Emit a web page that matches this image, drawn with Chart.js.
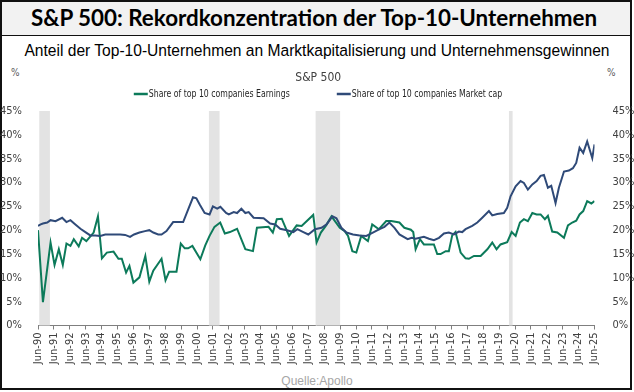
<!DOCTYPE html>
<html>
<head>
<meta charset="utf-8">
<script src="https://cdn.jsdelivr.net/npm/chart.js@4.4.0/dist/chart.umd.min.js"></script>
<style>
  body { margin: 0; background: #fff; }
  #frame { position: absolute; left: 0; top: 0; width: 632px; height: 390px; box-sizing: border-box;
           border: 2px solid #111; background: #fff; }
  #titlebar { position: absolute; left: 0; top: 0; width: 628px; height: 33px; background: #f2f2f2;
              border-bottom: 1.5px solid #111; }
  .txt { position: absolute; white-space: nowrap; }
  #title { left: 0; width: 628px; top: 0; height: 33px; line-height: 35px; text-align: center;
           font-family: Lato, 'Open Sans', sans-serif; font-weight: bold; color: #000; }
  #subtitle { left: 0; width: 634px; top: 40px; height: 22px; line-height: 22px; text-align: center;
              font-family: 'Liberation Sans', Arial, sans-serif; color: #000; }
  .pct { top: 67px; font: 10px 'Liberation Sans Narrow', 'DejaVu Sans Condensed', Roboto, sans-serif; color: #595959; }
  #source { left: 0; width: 634px; top: 374px; text-align: center; font: 12px 'Liberation Sans', Arial, sans-serif; color: #a6a6a6; }
  #chart { position: absolute; left: 0; top: 0; }
</style>
</head>
<body>
<div id="frame">
  <div id="titlebar"></div>
</div>
<div class="txt" id="title">S&amp;P 500: Rekordkonzentration der Top-10-Unternehmen</div>
<div class="txt" id="subtitle">Anteil der Top-10-Unternehmen an Marktkapitalisierung und Unternehmensgewinnen</div>
<div class="txt pct" style="left:11px">%</div>
<div class="txt pct" style="left:607px">%</div>
<div class="txt" id="source">Quelle:Apollo</div>
<canvas id="chart" width="634" height="392"></canvas>
<script>
// share of the S&P 500, in percent
var earnYears = [1990.50, 1990.81, 1991.29, 1991.54, 1991.81, 1992.06, 1992.29, 1992.54, 1992.75, 1993.06,
  1993.27, 1993.54, 1994.00, 1994.27, 1994.52, 1994.83, 1995.25, 1995.56, 1995.77, 1996.04,
  1996.25, 1996.50, 1996.88, 1997.25, 1997.50, 1997.75, 1998.27, 1998.52, 1998.75, 1999.21,
  1999.48, 1999.73, 1999.94, 2000.21, 2000.71, 2001.02, 2001.29, 2001.60, 2001.96, 2002.25,
  2002.57, 2003.02, 2003.54, 2004.02, 2004.27, 2005.00, 2005.27, 2005.52, 2005.83, 2006.29,
  2006.77, 2007.08, 2007.81, 2008.02, 2008.29, 2008.60, 2008.96, 2009.48, 2009.79, 2010.00,
  2010.27, 2010.52, 2010.83, 2011.25, 2011.52, 2011.94, 2012.40, 2012.71, 2013.23, 2013.54,
  2013.95, 2014.10, 2014.25, 2014.52, 2014.77, 2015.40, 2015.61, 2015.82, 2016.14, 2016.34,
  2016.55, 2016.76, 2017.08, 2017.39, 2017.60, 2017.92, 2018.34, 2018.76, 2019.07, 2019.34,
  2019.59, 2020.01, 2020.29, 2020.54, 2020.81, 2021.06, 2021.31, 2021.59, 2021.86, 2022.11,
  2022.38, 2022.57, 2022.84, 2023.16, 2023.58, 2023.83, 2024.10, 2024.35, 2024.56, 2024.79,
  2025.04, 2025.30, 2025.50];
var earnShare = [20.0, 4.9, 17.4, 12.7, 16.0, 12.7, 17.2, 16.7, 18.1, 16.6,
  18.4, 17.7, 19.5, 22.9, 14.1, 15.3, 15.5, 14.0, 14.0, 11.1,
  12.5, 9.0, 10.1, 14.6, 9.2, 11.5, 14.0, 9.5, 11.3, 11.3,
  17.2, 16.2, 16.2, 16.7, 13.9, 16.8, 18.8, 20.7, 21.6, 19.3,
  19.6, 20.3, 16.0, 15.6, 20.5, 20.7, 19.5, 22.3, 22.4, 18.8,
  21.0, 20.9, 23.2, 17.4, 19.5, 20.9, 22.9, 20.5, 19.8, 18.8,
  15.6, 15.3, 18.8, 17.7, 21.2, 20.2, 21.9, 21.9, 21.6, 20.5,
  20.1, 19.6, 16.0, 18.1, 17.0, 17.0, 15.0, 15.0, 15.6, 15.6,
  18.9, 19.6, 15.3, 14.1, 14.0, 14.6, 14.6, 16.0, 17.4, 16.0,
  17.0, 17.5, 19.6, 18.8, 21.6, 22.3, 21.9, 23.6, 23.3, 23.3,
  22.3, 23.0, 19.7, 19.5, 18.4, 21.0, 21.6, 22.0, 23.3, 24.0,
  26.1, 25.6, 26.1];

var mcapYears = [1990.50, 1990.67, 1990.81, 1991.08, 1991.29, 1991.60, 1992.02, 1992.29, 1992.54, 1992.85,
  1993.17, 1993.48, 1993.79, 1994.10, 1994.42, 1994.73, 1995.15, 1995.67, 1995.98, 1996.29,
  1996.54, 1996.88, 1997.23, 1997.50, 1997.75, 1998.06, 1998.27, 1998.58, 1999.00, 1999.63,
  1999.94, 2000.25, 2000.46, 2000.67, 2000.98, 2001.29, 2001.50, 2001.77, 2001.97, 2002.33,
  2002.50, 2002.81, 2003.02, 2003.29, 2003.54, 2003.75, 2004.06, 2004.69, 2005.10, 2005.42,
  2005.73, 2006.15, 2006.56, 2006.81, 2007.19, 2007.50, 2007.92, 2008.33, 2008.65, 2009.02,
  2009.27, 2009.58, 2009.90, 2010.31, 2010.73, 2011.15, 2011.56, 2011.98, 2012.29, 2012.60,
  2012.92, 2013.23, 2013.75, 2014.00, 2014.25, 2014.77, 2015.09, 2015.40, 2015.72, 2016.03,
  2016.34, 2016.66, 2016.97, 2017.18, 2017.39, 2017.81, 2018.13, 2018.44, 2018.86, 2019.07,
  2019.38, 2019.80, 2020.01, 2020.22, 2020.54, 2020.85, 2021.06, 2021.31, 2021.59, 2021.86,
  2022.11, 2022.32, 2022.57, 2022.78, 2023.05, 2023.26, 2023.58, 2023.89, 2024.14, 2024.35,
  2024.56, 2024.79, 2025.04, 2025.36, 2025.50];
var mcapShare = [20.9, 21.2, 21.4, 21.6, 22.1, 21.9, 22.6, 21.7, 22.1, 21.2,
  20.3, 19.6, 18.9, 18.9, 18.8, 19.1, 19.1, 19.1, 19.0, 18.6,
  19.1, 19.5, 19.8, 20.0, 19.5, 19.1, 19.1, 19.8, 21.7, 21.7,
  24.3, 26.9, 26.7, 25.4, 23.6, 23.3, 25.0, 24.5, 24.9, 23.6,
  23.3, 23.8, 23.6, 24.5, 23.6, 23.8, 22.6, 22.5, 21.4, 21.2,
  20.3, 20.0, 19.6, 20.2, 19.6, 19.1, 20.2, 20.5, 21.2, 22.9,
  22.5, 20.5, 19.5, 19.1, 18.9, 18.8, 19.5, 20.2, 20.7, 21.6,
  20.5, 19.1, 18.1, 18.4, 18.2, 18.6, 18.2, 17.9, 18.4, 19.3,
  19.5, 19.1, 19.7, 19.6, 20.2, 20.9, 21.6, 22.6, 24.0, 23.1,
  23.4, 23.6, 24.7, 27.1, 29.2, 30.3, 29.9, 28.5, 29.6, 30.3,
  31.4, 31.6, 28.9, 29.3, 25.7, 28.9, 32.3, 32.5, 33.0, 34.1,
  37.3, 36.2, 38.6, 35.1, 38.0];

// US recessions (shaded), start / end as decimal years
var recessionStart = [1990.58, 2001.25, 2007.96, 2020.12];
var recessionEnd   = [1991.25, 2001.92, 2009.50, 2020.35];

var tickLabels = ['Jun-90','Jun-91','Jun-92','Jun-93','Jun-94','Jun-95','Jun-96','Jun-97','Jun-98','Jun-99',
  'Jun-00','Jun-01','Jun-02','Jun-03','Jun-04','Jun-05','Jun-06','Jun-07','Jun-08','Jun-09',
  'Jun-10','Jun-11','Jun-12','Jun-13','Jun-14','Jun-15','Jun-16','Jun-17','Jun-18','Jun-19',
  'Jun-20','Jun-21','Jun-22','Jun-23','Jun-24','Jun-25'];

var NARROW = "'Liberation Sans Narrow', 'DejaVu Sans Condensed', Roboto, sans-serif";
var GREEN = '#0c7a5a';
var NAVY = '#2f4a78';

// squeeze the header texts to the width they have in the original
function fitText(id, target) {
    var el = document.getElementById(id);
    var cs = getComputedStyle(el);
    var ctx = document.createElement('canvas').getContext('2d');
    ctx.font = cs.fontWeight + ' 20px ' + cs.fontFamily;
    var w = ctx.measureText(el.textContent).width;
    el.style.fontSize = (20 * target / w).toFixed(2) + 'px';
}
fitText('title', 568);
fitText('subtitle', 586);

var recessionBands = {
    id: 'recessionBands',
    beforeDatasetsDraw: function(chart) {
        var ctx = chart.ctx, area = chart.chartArea, x = chart.scales.x;
        ctx.save();
        ctx.fillStyle = '#e3e3e3';
        for (var i = 0; i < recessionStart.length; i++) {
            var x0 = x.getPixelForValue(recessionStart[i]);
            var x1 = x.getPixelForValue(recessionEnd[i]);
            ctx.fillRect(x0, area.top, Math.max(x1 - x0, 3), area.bottom - area.top);
        }
        ctx.restore();
    }
};

// legend with short line markers and a wide gap between the two entries.
// the original uses a narrow font, so the text gets squeezed sideways a bit
var lineLegend = {
    id: 'lineLegend',
    afterDraw: function(chart) {
        var ctx = chart.ctx;
        var y = chart.chartArea.top - 17;
        ctx.save();
        ctx.font = '11px ' + NARROW;
        ctx.textBaseline = 'middle';
        var ds = chart.data.datasets;
        var sx = Math.min(1, 141 / ctx.measureText(ds[0].label).width);
        var items = ds.map(function(d) {
            return {label: d.label, color: d.borderColor, tw: ctx.measureText(d.label).width * sx};
        });
        var gap = 47;
        var total = items.reduce(function(s, it) { return s + 15 + it.tw; }, 0) + gap * (items.length - 1);
        var x = 318 - total / 2;
        items.forEach(function(it) {
            ctx.strokeStyle = it.color;
            ctx.lineWidth = 2.5;
            ctx.beginPath();
            ctx.moveTo(x, y);
            ctx.lineTo(x + 14, y);
            ctx.stroke();
            ctx.save();
            ctx.translate(x + 15, y);
            ctx.scale(sx, 1);
            ctx.fillStyle = '#262626';
            ctx.fillText(it.label, 0, 0);
            ctx.restore();
            x += 15 + it.tw + gap;
        });
        ctx.restore();
    }
};

function pairs(xs, ys) {
    return xs.map(function(v, i) { return {x: v, y: ys[i]}; });
}

var tickFont = {family: NARROW, size: 11};
var yTicks = {
    stepSize: 5,
    color: '#404040',
    font: tickFont,
    callback: function(v) { return v + '%'; }
};

var chart = new Chart(document.getElementById('chart'), {
    type: 'line',
    data: {
        datasets: [{
            label: 'Share of top 10 companies Earnings',
            data: pairs(earnYears, earnShare),
            borderColor: GREEN,
            backgroundColor: GREEN,
            borderWidth: 2,
            pointRadius: 0,
            tension: 0,
            order: 1
        }, {
            label: 'Share of top 10 companies Market cap',
            data: pairs(mcapYears, mcapShare),
            borderColor: NAVY,
            backgroundColor: NAVY,
            borderWidth: 2,
            pointRadius: 0,
            tension: 0,
            order: 0
        }]
    },
    options: {
        responsive: false,
        animation: false,
        events: [],
        layout: {padding: {left: 4, right: 4, top: 60, bottom: 24}},
        plugins: {
            legend: {display: false},
            tooltip: {enabled: false},
            title: {
                display: true,
                text: 'S&P 500',
                color: '#404040',
                font: {family: NARROW, size: 12, weight: 'normal'},
                padding: {top: 0, bottom: 26}
            }
        },
        scales: {
            x: {
                type: 'linear',
                min: 1990.5,
                max: 2025.5,
                afterBuildTicks: function(scale) {
                    scale.ticks = tickLabels.map(function(l, i) { return {value: 1990.5 + i}; });
                },
                ticks: {
                    autoSkip: false,
                    maxRotation: 90,
                    minRotation: 90,
                    padding: 3,
                    color: '#404040',
                    font: tickFont,
                    callback: function(v, i) { return tickLabels[i]; }
                },
                grid: {drawOnChartArea: false, drawTicks: true, tickLength: 4, color: '#7f7f7f'},
                border: {display: true, color: '#7f7f7f', width: 1}
            },
            y: {
                position: 'left',
                min: 0,
                max: 45,
                ticks: Object.assign({padding: 8}, yTicks),
                grid: {display: false},
                border: {display: false}
            },
            y2: {
                position: 'right',
                min: 0,
                max: 45,
                ticks: Object.assign({padding: 10}, yTicks),
                grid: {display: false},
                border: {display: false}
            }
        }
    },
    plugins: [recessionBands, lineLegend]
});

// nudge the padding so the plot sits where it sits in the original
var want = {left: 38, right: 594.5, top: 111, bottom: 325.5};
for (var k = 0; k < 2; k++) {
    var ca = chart.chartArea, p = chart.options.layout.padding;
    p.left += want.left - ca.left;
    p.right += ca.right - want.right;
    p.top += want.top - ca.top;
    p.bottom += ca.bottom - want.bottom;
    chart.update();
}
</script>
</body>
</html>
